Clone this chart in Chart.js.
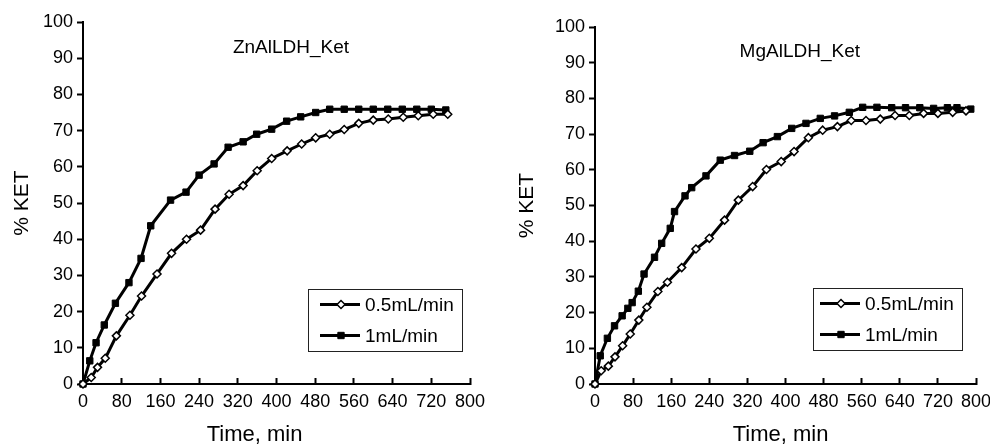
<!DOCTYPE html>
<html>
<head>
<meta charset="utf-8">
<script src="https://cdn.jsdelivr.net/npm/chart.js@4.4.1/dist/chart.umd.min.js"></script>
<style>
  html, body { margin: 0; padding: 0; background: #fff; }
  .panel { position: absolute; top: 0; width: 495px; height: 446px; }
</style>
</head>
<body>
<div class="panel" style="left:0"><canvas id="znChart" width="495" height="446"></canvas></div>
<div class="panel" style="left:495px"><canvas id="mgChart" width="495" height="446"></canvas></div>
<script>
// Series names (same for both panels)
const seriesLabels = ['0.5mL/min', '1mL/min'];

// Axis ticks
const xTickValues = [0, 80, 160, 240, 320, 400, 480, 560, 640, 720, 800];
const yTickValues = [0, 10, 20, 30, 40, 50, 60, 70, 80, 90, 100];

// ZnAlLDH_Ket, 0.5 mL/min
const znTimeSlow = [0, 17, 30, 46, 69, 97, 121, 153, 183, 214, 243, 273, 302, 331, 360, 390, 422, 452, 481, 510, 540, 570, 600, 631, 662, 693, 724, 754];
const znKetSlow = [0, 1.8, 4.6, 7.1, 13.3, 19.0, 24.3, 30.4, 36.1, 40.0, 42.5, 48.3, 52.4, 54.8, 58.9, 62.3, 64.4, 66.3, 68.0, 69.0, 70.3, 72.0, 72.9, 73.2, 73.7, 74.1, 74.5, 74.5];

// ZnAlLDH_Ket, 1 mL/min
const znTimeFast = [0, 14, 27, 44, 67, 95, 120, 140, 181, 213, 240, 271, 300, 331, 359, 390, 421, 450, 481, 510, 540, 570, 600, 630, 660, 690, 720, 750];
const znKetFast = [0, 6.4, 11.4, 16.3, 22.3, 28.0, 34.7, 43.7, 50.8, 53.0, 57.7, 60.8, 65.4, 66.9, 69.0, 70.4, 72.6, 73.8, 75.0, 75.9, 75.9, 75.9, 75.9, 75.9, 75.9, 75.9, 75.9, 75.7];

// MgAlLDH_Ket, 0.5 mL/min
const mgTimeSlow = [0, 13, 28, 42, 58, 74, 92, 109, 132, 152, 182, 212, 240, 272, 301, 331, 360, 391, 418, 448, 478, 509, 538, 569, 599, 630, 660, 690, 720, 751, 779];
const mgKetSlow = [0, 3.7, 5.0, 7.6, 10.7, 14.0, 17.9, 21.5, 25.9, 28.5, 32.6, 37.8, 40.8, 45.9, 51.5, 55.3, 60.1, 62.3, 65.1, 69.0, 71.1, 72.1, 73.8, 73.8, 74.2, 75.2, 75.2, 75.8, 75.8, 76.1, 76.5];

// MgAlLDH_Ket, 1 mL/min
const mgTimeFast = [0, 11, 26, 41, 57, 69, 78, 91, 103, 125, 140, 158, 167, 189, 203, 233, 263, 293, 325, 353, 383, 413, 443, 473, 503, 534, 562, 592, 623, 652, 682, 711, 740, 760, 789];
const mgKetFast = [0, 7.9, 12.8, 16.3, 19.1, 21.2, 22.8, 26.0, 30.8, 35.5, 39.4, 43.6, 48.3, 52.7, 55.0, 58.3, 62.7, 64.0, 65.2, 67.6, 69.3, 71.6, 73.0, 74.4, 75.1, 76.1, 77.5, 77.5, 77.4, 77.4, 77.4, 77.2, 77.4, 77.4, 77.0];

const FONT = "'Liberation Sans', Arial, sans-serif";

function toPoints(times, values) {
    return times.map((t, i) => ({ x: t, y: values[i] }));
}

// Draws the panel title, axis titles and the boxed legend
const panelText = {
    id: 'panelText',
    afterDraw(chart, args, opts) {
        const ctx = chart.ctx;
        const area = chart.chartArea;
        const xs = chart.scales.x;
        const ys = chart.scales.y;
        ctx.save();
        ctx.fillStyle = '#000';
        ctx.textAlign = 'center';
        ctx.textBaseline = 'middle';

        // panel title inside the plot
        ctx.font = '19px ' + FONT;
        ctx.fillText(opts.title, xs.getPixelForValue(430), ys.getPixelForValue(93));

        // x axis title
        ctx.font = '22px ' + FONT;
        ctx.fillText('Time, min', (area.left + area.right) / 2 + opts.xTitleShift, 435);

        // y axis title, rotated
        ctx.save();
        ctx.translate(opts.yTitleX, (area.top + area.bottom) / 2);
        ctx.rotate(-Math.PI / 2);
        ctx.font = '21px ' + FONT;
        ctx.fillText('% KET', 0, 0);
        ctx.restore();

        // legend box
        const boxRight = area.right - opts.legendRight;
        const boxBottom = area.bottom - opts.legendBottom;
        const boxLeft = boxRight - opts.legendWidth;
        const boxTop = boxBottom - 62;
        ctx.strokeStyle = '#222';
        ctx.lineWidth = 1;
        ctx.strokeRect(boxLeft + 0.5, boxTop + 0.5, opts.legendWidth, 62);

        ctx.font = '19px ' + FONT;
        ctx.textAlign = 'left';
        chart.data.datasets.forEach((ds, i) => {
            const y = boxTop + 15.5 + i * 31;
            ctx.strokeStyle = '#000';
            ctx.lineWidth = ds.borderWidth;
            ctx.beginPath();
            ctx.moveTo(boxRight - 142, y);
            ctx.lineTo(boxRight - 102, y);
            ctx.stroke();
            ctx.fillStyle = ds.pointBackgroundColor;
            ctx.strokeStyle = ds.pointBorderColor;
            ctx.lineWidth = ds.pointBorderWidth;
            Chart.helpers.drawPoint(ctx, {
                pointStyle: ds.pointStyle,
                radius: ds.pointRadius,
                rotation: 0,
                borderWidth: ds.pointBorderWidth
            }, boxRight - 121, y);
            ctx.fillStyle = '#000';
            ctx.fillText(ds.label, boxRight - 97, y + 1);
        });
        ctx.restore();
    }
};

function makeChart(canvasId, slowPts, fastPts, layout) {
    const ctx = document.getElementById(canvasId).getContext('2d');
    return new Chart(ctx, {
        type: 'line',
        data: {
            datasets: [{
                label: seriesLabels[0],
                data: slowPts,
                borderColor: '#000',
                borderWidth: 3,
                pointStyle: 'rectRot',
                pointRadius: 4,
                pointBackgroundColor: '#fff',
                pointBorderColor: '#000',
                pointBorderWidth: 1.5,
                tension: 0,
                clip: false
            }, {
                label: seriesLabels[1],
                data: fastPts,
                borderColor: '#000',
                borderWidth: 3,
                pointStyle: 'rect',
                pointRadius: 4.5,
                pointBackgroundColor: '#000',
                pointBorderColor: '#000',
                pointBorderWidth: 1,
                tension: 0,
                clip: false
            }]
        },
        options: {
            responsive: false,
            animation: false,
            events: [],
            layout: {
                padding: { top: layout.top, right: layout.right, left: 0, bottom: 0 }
            },
            scales: {
                x: {
                    type: 'linear',
                    min: 0,
                    max: 800,
                    afterBuildTicks: scale => { scale.ticks = xTickValues.map(v => ({ value: v })); },
                    afterFit: scale => {
                        scale.height = 62;
                        // let the end labels overhang, like the original
                        scale.paddingLeft = 0;
                        scale.paddingRight = 0;
                    },
                    border: { display: true, color: '#000', width: 2 },
                    grid: { drawOnChartArea: false, drawTicks: true, tickLength: -6, tickWidth: 2, tickColor: '#000' },
                    ticks: { color: '#000', font: { family: FONT, size: 18 }, padding: 13, maxRotation: 0, autoSkip: false }
                },
                y: {
                    min: 0,
                    max: 100,
                    afterBuildTicks: scale => { scale.ticks = yTickValues.map(v => ({ value: v })); },
                    afterFit: scale => {
                        scale.width = layout.left;
                        scale.paddingTop = 0;
                        scale.paddingBottom = 0;
                    },
                    border: { display: true, color: '#000', width: 2 },
                    grid: { drawOnChartArea: false, drawTicks: true, tickLength: 6, tickWidth: 2, tickColor: '#000' },
                    ticks: { color: '#000', font: { family: FONT, size: 18 }, padding: 4, autoSkip: false }
                }
            },
            plugins: {
                legend: { display: false },
                tooltip: { enabled: false },
                panelText: layout.text
            }
        },
        plugins: [panelText]
    });
}

makeChart('znChart', toPoints(znTimeSlow, znKetSlow), toPoints(znTimeFast, znKetFast), {
    left: 83, top: 22, right: 25,
    text: { title: 'ZnAlLDH_Ket', xTitleShift: -22, yTitleX: 22, legendRight: 8, legendBottom: 33, legendWidth: 154 }
});

makeChart('mgChart', toPoints(mgTimeSlow, mgKetSlow), toPoints(mgTimeFast, mgKetFast), {
    left: 100, top: 27, right: 14,
    text: { title: 'MgAlLDH_Ket', xTitleShift: -5, yTitleX: 32, legendRight: 14, legendBottom: 34, legendWidth: 149 }
});
</script>
</body>
</html>
